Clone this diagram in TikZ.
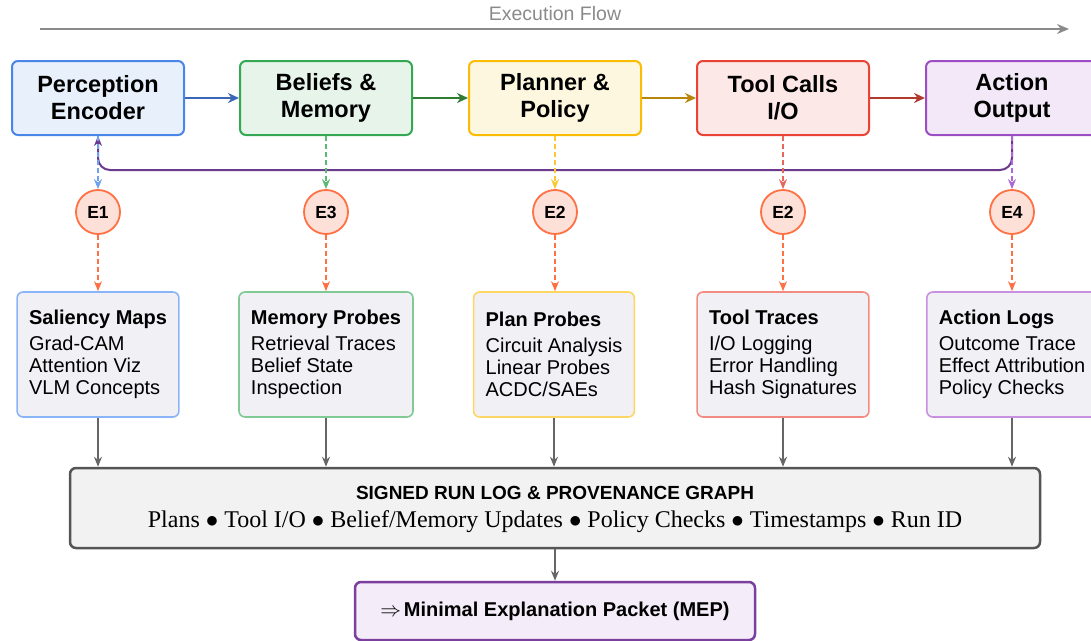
\documentclass[tikz,border=0pt]{standalone}
\usepackage{fontspec}
\setmainfont{Liberation Serif}
\setsansfont{Liberation Sans}
\usetikzlibrary{arrows.meta}
\definecolor{flowG}{HTML}{8A8A8A}
\definecolor{pB}{HTML}{4A86E8}\definecolor{pF}{HTML}{E8F0FC}\definecolor{pA}{HTML}{3A66B5}\definecolor{pD}{HTML}{6FA0F2}\definecolor{pL}{HTML}{8AB4F8}
\definecolor{bB}{HTML}{34A853}\definecolor{bF}{HTML}{E6F4EA}\definecolor{bA}{HTML}{2E7D32}\definecolor{bD}{HTML}{5BB974}\definecolor{bL}{HTML}{81C995}
\definecolor{yB}{HTML}{FBBC04}\definecolor{yF}{HTML}{FEF7E0}\definecolor{yA}{HTML}{B8860B}\definecolor{yD}{HTML}{FBC833}\definecolor{yL}{HTML}{FDD663}
\definecolor{rB}{HTML}{EA4335}\definecolor{rF}{HTML}{FCE8E6}\definecolor{rA}{HTML}{B03A2E}\definecolor{rD}{HTML}{E8675C}\definecolor{rL}{HTML}{F28B82}
\definecolor{vB}{HTML}{9C4DC4}\definecolor{vF}{HTML}{F3E8F8}\definecolor{vA}{HTML}{6B3A8C}\definecolor{vD}{HTML}{AB68D6}\definecolor{vL}{HTML}{C890DE}
\definecolor{circB}{HTML}{FF7043}\definecolor{circF}{HTML}{FDE0D8}
\definecolor{detF}{HTML}{F0F0F5}
\definecolor{grayA}{HTML}{666666}
\definecolor{logF}{HTML}{F2F2F2}\definecolor{logB}{HTML}{555555}
\definecolor{mepB}{HTML}{7B3F9E}\definecolor{mepF}{HTML}{F4ECF9}
\begin{document}
\begin{tikzpicture}[x=1pt,y=-1pt,
  font=\sffamily,
  top/.style={rounded corners=6pt, line width=2pt, minimum width=172pt, minimum height=74pt, align=center, inner sep=0pt, font=\sffamily\bfseries\fontsize{23.5}{27}\selectfont},
  ev/.style={circle, draw=circB, fill=circF, line width=1.8pt, minimum size=44pt, inner sep=0pt, font=\sffamily\bfseries\fontsize{17.5}{20}\selectfont},
  det/.style={rounded corners=6pt, line width=1.6pt, fill=detF, minimum height=125pt, align=left, inner xsep=12pt, font=\sffamily\fontsize{20}{22}\selectfont},
  flow/.style={-{Stealth[length=11pt,width=10pt]}, line width=2pt},
  dasharr/.style={-{Stealth[length=10pt,width=8pt]}, line width=1.6pt, dash pattern=on 5pt off 3pt},
  gry/.style={-{Stealth[length=10pt,width=8pt]}, line width=2pt, draw=grayA},
]
\useasboundingbox (0,0) rectangle (1091,640);

% execution flow
\node[text=flowG, font=\sffamily\fontsize{19.5}{22}\selectfont] (flowlbl) at (555,14) {Execution Flow};
\coordinate (fs) at (40,29);
\coordinate (fe) at (1069,29);
\draw[line width=2.5pt, draw=flowG, -{Stealth[length=12pt,width=10pt]}] (fs) -- (fe);

% top row
\node[top, draw=pB, fill=pF] (perc) at (98,98) {Perception\\Encoder};
\node[top, draw=bB, fill=bF] (bel) at (326,98) {Beliefs \&\\Memory};
\node[top, draw=yB, fill=yF] (plan) at (555,98) {Planner \&\\Policy};
\node[top, draw=rB, fill=rF] (tool) at (783,98) {Tool Calls\\I/O};
\node[top, draw=vB, fill=vF] (act) at (1012,98) {Action\\Output};

\draw[flow, draw=pA] (perc) -- (bel);
\draw[flow, draw=bA] (bel) -- (plan);
\draw[flow, draw=yA] (plan) -- (tool);
\draw[flow, draw=rA] (tool) -- (act);

% circles
\node[ev] (e1) at (98,212) {E1};
\node[ev] (e3) at (326,212) {E3};
\node[ev] (e2a) at (555,212) {E2};
\node[ev] (e2b) at (783,212) {E2};
\node[ev] (e4) at (1012,212) {E4};

% feedback loop
\coordinate (fb) at (0,170);
\draw[line width=2pt, draw=vA, rounded corners=12pt, -{Stealth[length=10pt,width=8pt]}]
  (act.south) -- (act.south |- fb) -- (perc.south |- fb) -- (perc.south);

\draw[dasharr, draw=pD] (perc.south) -- (e1.north);
\draw[dasharr, draw=bD] (bel.south) -- (e3.north);
\draw[dasharr, draw=yD] (plan.south) -- (e2a.north);
\draw[dasharr, draw=rD] (tool.south) -- (e2b.north);
\draw[dasharr, draw=vD] (act.south) -- (e4.north);

% detail boxes
\node[det, draw=pL] (d1) at (98,354.5) {\textbf{Saliency Maps}\\[4pt]Grad-CAM\\Attention Viz\\VLM Concepts};
\node[det, draw=bL] (d2) at (326,354.5) {\textbf{Memory Probes}\\[4pt]Retrieval Traces\\Belief State\\Inspection};
\node[det, draw=yL] (d3) at (554,354.5) {\textbf{Plan Probes}\\[4pt]Circuit Analysis\\Linear Probes\\ACDC/SAEs};
\node[det, draw=rL] (d4) at (783,354.5) {\textbf{Tool Traces}\\[4pt]I/O Logging\\Error Handling\\Hash Signatures};
\node[det, draw=vL] (d5) at (1012,354.5) {\textbf{Action Logs}\\[4pt]Outcome Trace\\Effect Attribution\\Policy Checks};

\draw[dasharr, draw=circB] (e1.south) -- (d1.north);
\draw[dasharr, draw=circB] (e3.south) -- (d2.north);
\draw[dasharr, draw=circB] (e2a.south) -- (d3.north -| e2a.south);
\draw[dasharr, draw=circB] (e2b.south) -- (d4.north);
\draw[dasharr, draw=circB] (e4.south) -- (d5.north);

% run log
\node[rounded corners=6pt, line width=2.5pt, draw=logB, fill=logF, minimum width=970pt, minimum height=80pt, inner sep=0pt] (log) at (555,508) {};
\node[font=\sffamily\bfseries\fontsize{19}{21}\selectfont, inner sep=0pt] (logtitle) at (555,493) {SIGNED RUN LOG \& PROVENANCE GRAPH};
\node[font=\rmfamily\fontsize{24}{26}\selectfont, inner sep=0pt] (logitems) at (555,522) {Plans $\bullet$ Tool I/O $\bullet$ Belief/Memory Updates $\bullet$ Policy Checks $\bullet$ Timestamps $\bullet$ Run ID};

\draw[gry] (d1.south) -- (d1.south |- log.north);
\draw[gry] (d2.south) -- (d2.south |- log.north);
\draw[gry] (d3.south) -- (d3.south |- log.north);
\draw[gry] (d4.south) -- (d4.south |- log.north);
\draw[gry] (d5.south) -- (d5.south |- log.north);

% MEP
\node[rounded corners=6pt, line width=2.5pt, draw=mepB, fill=mepF, minimum width=400pt, minimum height=58pt, inner sep=0pt] (mep) at (555,611)
  {{\rmfamily\fontsize{20}{22}\selectfont$\Rightarrow$}\ {\bfseries\fontsize{20}{22}\selectfont Minimal Explanation Packet (MEP)}};
\draw[gry] (log.south) -- (mep.north);
\end{tikzpicture}
\end{document}
